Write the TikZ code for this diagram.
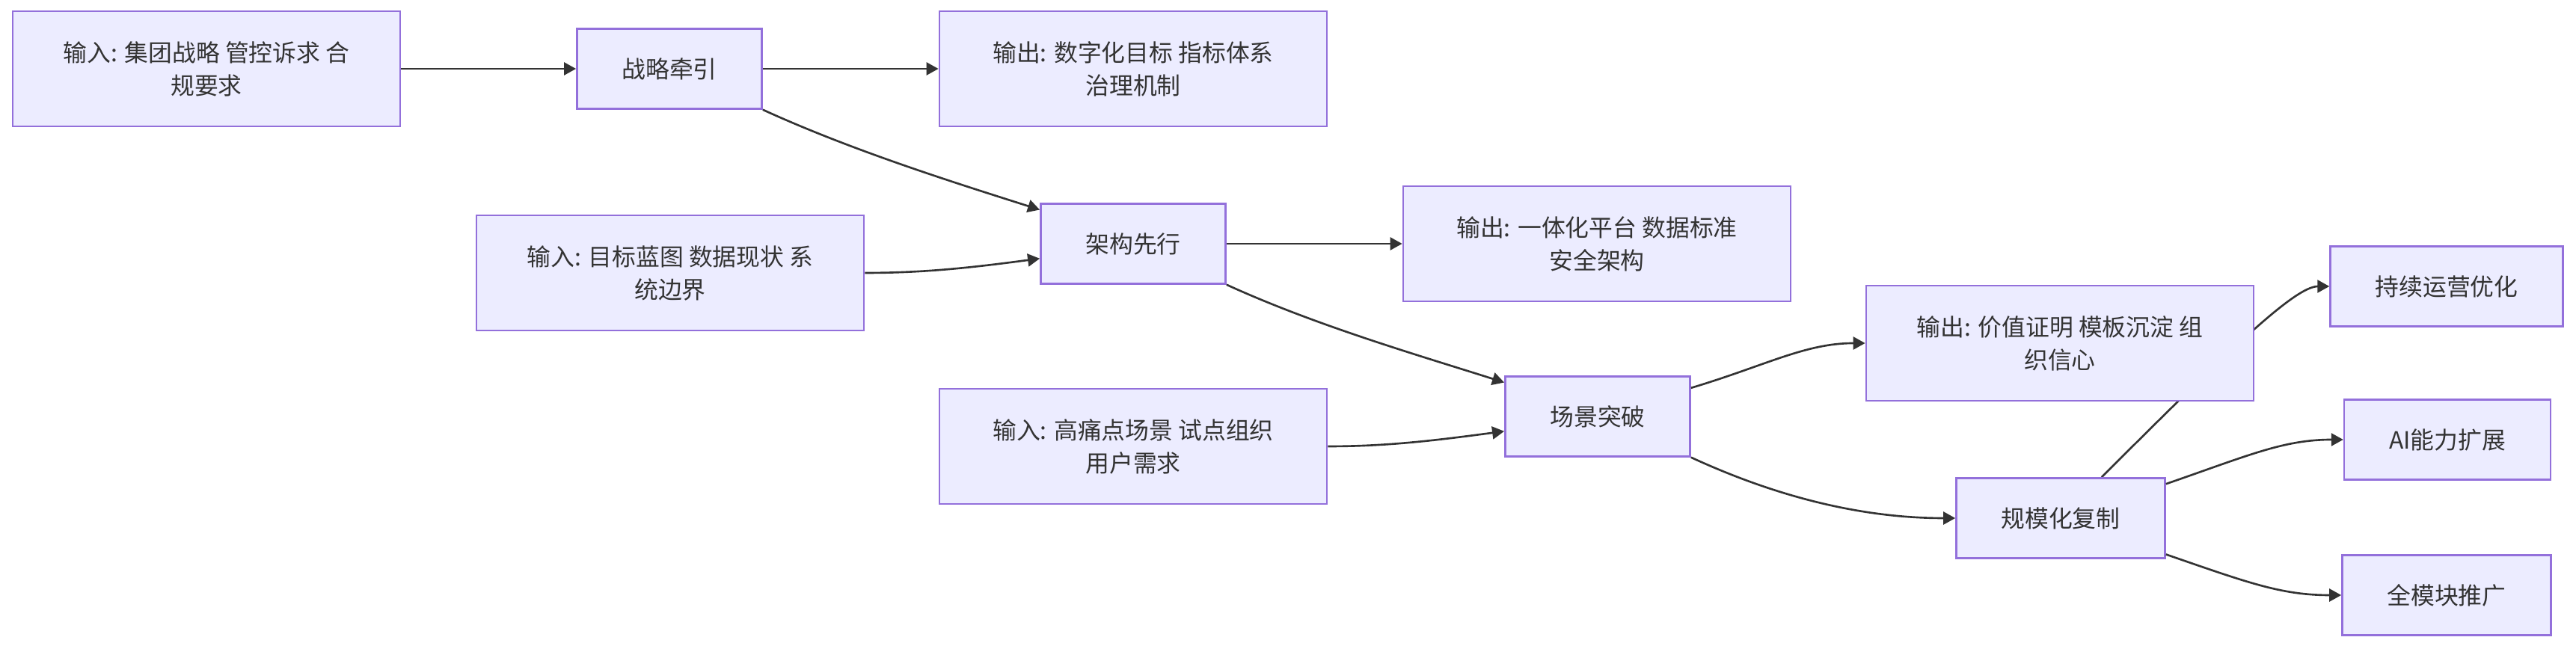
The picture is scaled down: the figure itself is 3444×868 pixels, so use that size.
\documentclass[tikz,border=0pt]{standalone}
\usepackage{fontspec}
\setmainfont{Noto Sans CJK SC}
\usetikzlibrary{arrows.meta,backgrounds}
\definecolor{nviolet}{HTML}{9370DB}
\definecolor{nlavender}{HTML}{ECECFF}
\definecolor{ndark}{HTML}{333333}

\begin{document}
\begin{tikzpicture}[x=0.01cm,y=-0.01cm,
 box/.style={draw=nviolet,fill=nlavender,line width=0.7pt,text=ndark,align=center,inner sep=0pt,font=\fontsize{9.05pt}{12.5pt}\selectfont},
 io/.style={box,minimum width=5.18cm,minimum height=1.54cm},
 stage/.style={box,inner xsep=0.6cm,minimum height=1.07cm},
 flow/.style={ndark,line width=0.75pt,-{Triangle[length=0.16cm,width=0.17cm]}}]
 \useasboundingbox (0,0) rectangle (3444,868);
 % column 1-2
 \node[io] (in1) at (276,92) {输入: 集团战略 管控诉求 合\\规要求};
 \node[stage] (s1) at (895,92) {战略牵引};
 \node[io] (in2) at (896,365) {输入: 目标蓝图 数据现状 系\\统边界};
 % column 3
 \node[io] (out1) at (1515,92) {输出: 数字化目标 指标体系\\治理机制};
 \node[stage] (s2) at (1515,326) {架构先行};
 \node[io] (in3) at (1515,597) {输入: 高痛点场景 试点组织\\用户需求};
 % column 4-5
 \node[io] (out2) at (2135,326) {输出: 一体化平台 数据标准\\安全架构};
 \node[stage] (s3) at (2136,557) {场景突破};
 \node[io] (out3) at (2754,459) {输出: 价值证明 模板沉淀 组\\织信心};
 \node[stage] (s4) at (2755,693) {规模化复制};
 % column 6
 \node[stage] (f1) at (3271,383) {持续运营优化};
 \node[stage] (f2) at (3272,588) {AI能力扩展};
 \node[stage] (f3) at (3271,796) {全模块推广};

 \draw[flow] (in1) -- (s1);
 \draw[flow] (s1) -- (out1);
 \draw[flow] (s1.south east) .. controls +(120,55) and +(-110,-35) .. (s2.160);
 \draw[flow] (in2.east) .. controls +(80,0) and +(-90,12) .. (s2.189);
 \draw[flow] (s2) -- (out2);
 \draw[flow] (s2.south east) .. controls +(120,55) and +(-110,-35) .. (s3.160);
 \draw[flow] (in3.east) .. controls +(80,0) and +(-90,12) .. (s3.189);
 \draw[flow] (s3.17) .. controls +(100,-30) and +(-80,0) .. (out3.west);
 \draw[flow] (s3.south east) .. controls +(130,60) and +(-110,0) .. (s4.west);
 \begin{scope}[on background layer]
  \draw[flow] (s4.45) .. controls +(170,-170) and +(-46,0) .. (f1.west);
 \end{scope}
 \draw[flow] (s4.18) .. controls +(110,-38) and +(-80,0) .. (f2.west);
 \draw[flow] (s4.-19) .. controls +(110,38) and +(-80,0) .. (f3.west);
\end{tikzpicture}
\end{document}
